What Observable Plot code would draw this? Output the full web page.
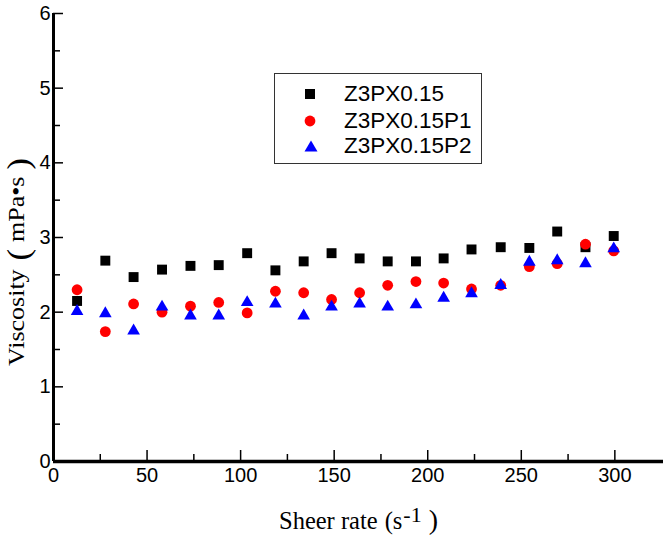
<!DOCTYPE html>
<html>
<head>
<meta charset="utf-8">
<script src="https://cdn.jsdelivr.net/npm/d3@7"></script>
<script src="https://cdn.jsdelivr.net/npm/@observablehq/plot@0.6"></script>
<style>
  html, body { margin: 0; padding: 0; background: #fff; }
  #wrap { position: relative; width: 664px; height: 535px; overflow: hidden; }
  #legend { position: absolute; left: 274px; top: 73px; width: 206px; height: 89px;
    border: 1.5px solid #333; background: #fff; font-family: "Liberation Sans", Arial, sans-serif;
    font-size: 22.5px; color: #000; }
  .row { position: absolute; left: 0; height: 24px; display: flex; align-items: center; }
  .row svg { position: absolute; left: 29px; }
  .row span { position: absolute; left: 69px; white-space: nowrap; line-height: 24px; }
</style>
</head>
<body>
<div id="wrap"></div>
<script>
// ---- data ----
const shearRate = [12.6, 27.7, 42.8, 58, 73.2, 88.3, 103.5, 118.6, 133.7, 148.6, 163.6, 178.6, 193.7, 208.5, 223.4, 239, 254.3, 269.2, 284.3, 299.4];
const viscZ3PX = [2.15, 2.69, 2.47, 2.57, 2.62, 2.63, 2.79, 2.56, 2.68, 2.79, 2.72, 2.68, 2.68, 2.72, 2.84, 2.87, 2.86, 3.08, 2.87, 3.02];
const viscP1 = [2.30, 1.74, 2.11, 2.00, 2.08, 2.13, 1.99, 2.28, 2.26, 2.17, 2.26, 2.36, 2.41, 2.39, 2.31, 2.36, 2.61, 2.65, 2.91, 2.82];
const viscP2 = [2.01, 1.98, 1.75, 2.07, 1.95, 1.95, 2.13, 2.11, 1.95, 2.07, 2.11, 2.07, 2.10, 2.19, 2.25, 2.36, 2.67, 2.69, 2.65, 2.85];
const seriesNames = ["Z3PX0.15", "Z3PX0.15P1", "Z3PX0.15P2"];
const xTicks = [0, 50, 100, 150, 200, 250, 300];
const xMinor = [25, 75, 125, 175, 225, 275];
const yTicks = [0, 1, 2, 3, 4, 5, 6];
const yMinor = [0.5, 1.5, 2.5, 3.5, 4.5, 5.5];
const xTitle = ["Sheer rate", "(s", "-1", ")"];
const yTitle = ["Viscosity", "(", "mPa•s", ")"];

const toRows = (vals) => shearRate.map((x, i) => ({x, y: vals[i]}));
const dZ = toRows(viscZ3PX), d1 = toRows(viscP1), d2 = toRows(viscP2);

const W = 664, H = 535, mL = 53, mR = 1, mT = 13, mB = 74;
const frameW = W - mL - mR, frameH = H - mT - mB;

const chart = Plot.plot({
  width: W, height: H,
  marginLeft: mL, marginRight: mR, marginTop: mT, marginBottom: mB,
  style: {fontFamily: "Liberation Sans, Arial, sans-serif", fontSize: "20px", background: "#fff", color: "#000"},
  x: {domain: [0, 326]},
  y: {domain: [0, 6]},
  marks: [
    Plot.axisX({ticks: xTicks, tickSize: 0, tickPadding: 6, label: null, tickFormat: d3.format("d")}),
    Plot.axisY({ticks: yTicks, tickSize: 0, tickPadding: 3, label: null, tickFormat: d3.format("d")}),
    Plot.tickX(xTicks, {x: d => d, insetTop: frameH - 11, stroke: "#000", strokeWidth: 1.5}),
    Plot.tickX(xMinor, {x: d => d, insetTop: frameH - 7, stroke: "#000", strokeWidth: 1.5}),
    Plot.tickY(yTicks, {y: d => d, insetRight: frameW - 10, stroke: "#000", strokeWidth: 1.5}),
    Plot.tickY(yMinor, {y: d => d, insetRight: frameW - 7, stroke: "#000", strokeWidth: 1.5}),
    Plot.ruleY([0], {stroke: "#000", strokeWidth: 3.5}),
    Plot.ruleX([0], {stroke: "#000", strokeWidth: 3}),
    Plot.dot(dZ, {x: "x", y: "y", symbol: "square", r: 5.6, fill: "#000"}),
    Plot.dot(d1, {x: "x", y: "y", symbol: "circle", r: 5.4, fill: "#ff0000"}),
    Plot.dot(d2, {x: "x", y: "y", symbol: "triangle", r: 4.7, fill: "#0000ff"})
  ]
});

const svg = d3.select(chart);
const serif = "'Liberation Serif', 'Times New Roman', serif";
// x-axis title
const xt = svg.append("text")
  .attr("x", 279).attr("y", 529)
  .attr("text-anchor", "start")
  .style("font-family", serif).style("font-size", "24.5px").style("fill", "#000");
xt.append("tspan").text(xTitle[0]);
xt.append("tspan").attr("dx", 7).text(xTitle[1]);
xt.append("tspan").style("font-size", "22px").attr("dy", -7).attr("dx", 1).text(xTitle[2]);
xt.append("tspan").style("font-size", "28px").attr("dy", 7).attr("dx", 7).text(xTitle[3]);

// y-axis title (slightly stretched along its baseline, as in the reference)
const yt = svg.append("text")
  .attr("transform", "translate(24,366) rotate(-90) scale(1.13,1)")
  .attr("text-anchor", "start")
  .style("font-family", serif).style("font-size", "23px").style("fill", "#000");
yt.append("tspan").text(yTitle[0]);
yt.append("tspan").style("font-size", "31px").attr("dx", 8).attr("dy", 5).text(yTitle[1]);
yt.append("tspan").attr("dx", 6).attr("dy", -5).text(yTitle[2]);
yt.append("tspan").style("font-size", "31px").attr("dx", 6).attr("dy", 5).text(yTitle[3]);

const wrap = document.getElementById("wrap");
wrap.appendChild(chart);

// legend
const legend = document.createElement("div");
legend.id = "legend";
const symbols = [
  '<svg width="12" height="12"><rect x="1" y="1" width="10" height="10" fill="#000"/></svg>',
  '<svg width="12" height="12"><circle cx="6" cy="6" r="5.4" fill="#ff0000"/></svg>',
  '<svg width="14" height="12"><path d="M7,0.5 L13.5,11.5 L0.5,11.5 Z" fill="#0000ff"/></svg>'
];
const rowTops = [8, 35, 60];
seriesNames.forEach((name, i) => {
  const r = document.createElement("div");
  r.className = "row";
  r.style.top = rowTops[i] + "px";
  r.innerHTML = symbols[i] + "<span>" + name + "</span>";
  legend.appendChild(r);
});
wrap.appendChild(legend);
</script>
</body>
</html>
